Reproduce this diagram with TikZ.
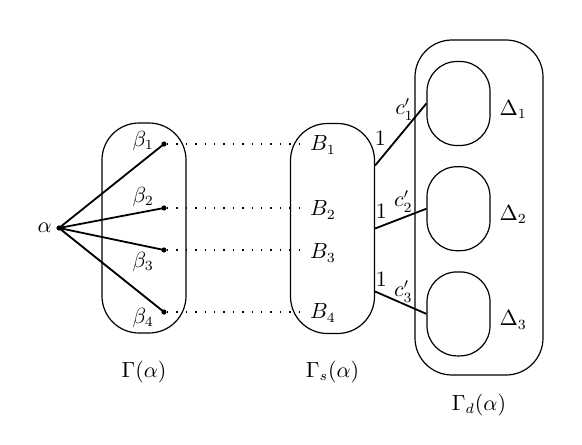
\documentclass[tikz,border=0pt]{standalone}
\usepackage{amsmath}
\usetikzlibrary{positioning,calc}

\begin{document}
\begin{tikzpicture}[x=0.5pt,y=-0.5pt,
  grp/.style={draw,line width=0.6pt,rounded corners=18.5pt,
              minimum width=42pt,minimum height=105pt,inner sep=0pt},
  outer/.style={grp,minimum width=64pt,minimum height=167.5pt},
  cell/.style={draw,line width=0.6pt,rounded corners=15pt,
               minimum width=31.5pt,minimum height=42pt,inner sep=0pt},
  pt/.style={circle,fill,inner sep=0pt,minimum size=2.6pt},
  edge/.style={line width=0.9pt},
  link/.style={loosely dotted,line width=0.7pt},
  lbl/.style={font=\fontsize{10.5}{12}\selectfont},
  node distance=10pt
]
\useasboundingbox (0,0) rectangle (582,444);

% Gamma(alpha)
\node[grp] (gam) at (144,228) {};
\node[lbl,below=10pt of gam] (gamlab) {$\Gamma(\alpha)$};

\node[pt] (a) at (59,228) {};
\node[lbl,inner sep=1pt,left=1pt of a] (alab) {$\alpha$};

\node[pt] (b1) at (164,144) {};
\node[pt] (b2) at (164,208) {};
\node[pt] (b3) at (164,250) {};
\node[pt] (b4) at (164,312) {};
\node[lbl,left=0pt of b1,yshift=1.5pt] (b1lab) {$\beta_1$};
\node[lbl,left=0pt of b2,yshift=5.5pt] (b2lab) {$\beta_2$};
\node[lbl,left=0pt of b3,yshift=-6pt]  (b3lab) {$\beta_3$};
\node[lbl,left=0pt of b4,yshift=-3pt]  (b4lab) {$\beta_4$};

\foreach \i in {1,...,4}
  \draw[edge] (a.center) -- (b\i.center);

% Gamma_s(alpha)
\node[grp] (gs) at (332.5,228.5) {};
\node[lbl,below=10pt of gs] (gslab) {$\Gamma_s(\alpha)$};

\node[lbl] (B1) at (323,145) {$B_1$};
\node[lbl] (B2) at (323,210) {$B_2$};
\node[lbl] (B3) at (323,253) {$B_3$};
\node[lbl] (B4) at (323,313) {$B_4$};

\foreach \i in {1,...,4}
  \draw[link] (b\i) -- (B\i.west |- b\i);

% Gamma_d(alpha)
\node[outer] (gd) at (479,207.5) {};
\node[lbl,below=5.5pt of gd] (gdlab) {$\Gamma_d(\alpha)$};

\node[cell] (d1) at (458.5,103.5) {};
\node[cell,below=of d1] (d2) {};
\node[cell,below=of d2] (d3) {};
\node[lbl,right=1pt of d1,yshift=-3pt] (d1lab) {$\Delta_1$};
\node[lbl,right=1pt of d2,yshift=-3pt] (d2lab) {$\Delta_2$};
\node[lbl,right=1pt of d3,yshift=-3pt] (d3lab) {$\Delta_3$};

\coordinate (s1) at ($(gs.east)+(0,-63)$);
\coordinate (s2) at (gs.east);
\coordinate (s3) at ($(gs.east)+(0,63)$);

\draw[edge] (s1) -- node[lbl,pos=0.1,above=3pt]{$1$}
                    node[lbl,pos=0.9,left]{$c'_1$} (d1.west);
\draw[edge] (s2) -- node[lbl,pos=0.12,above]{$1$}
                    node[lbl,pos=0.55,above=-1pt]{$c'_2$} (d2.west);
\draw[edge] (s3) -- node[lbl,pos=0.12,above]{$1$}
                    node[lbl,pos=0.55,above=-3pt]{$c'_3$} (d3.west);

\end{tikzpicture}
\end{document}
